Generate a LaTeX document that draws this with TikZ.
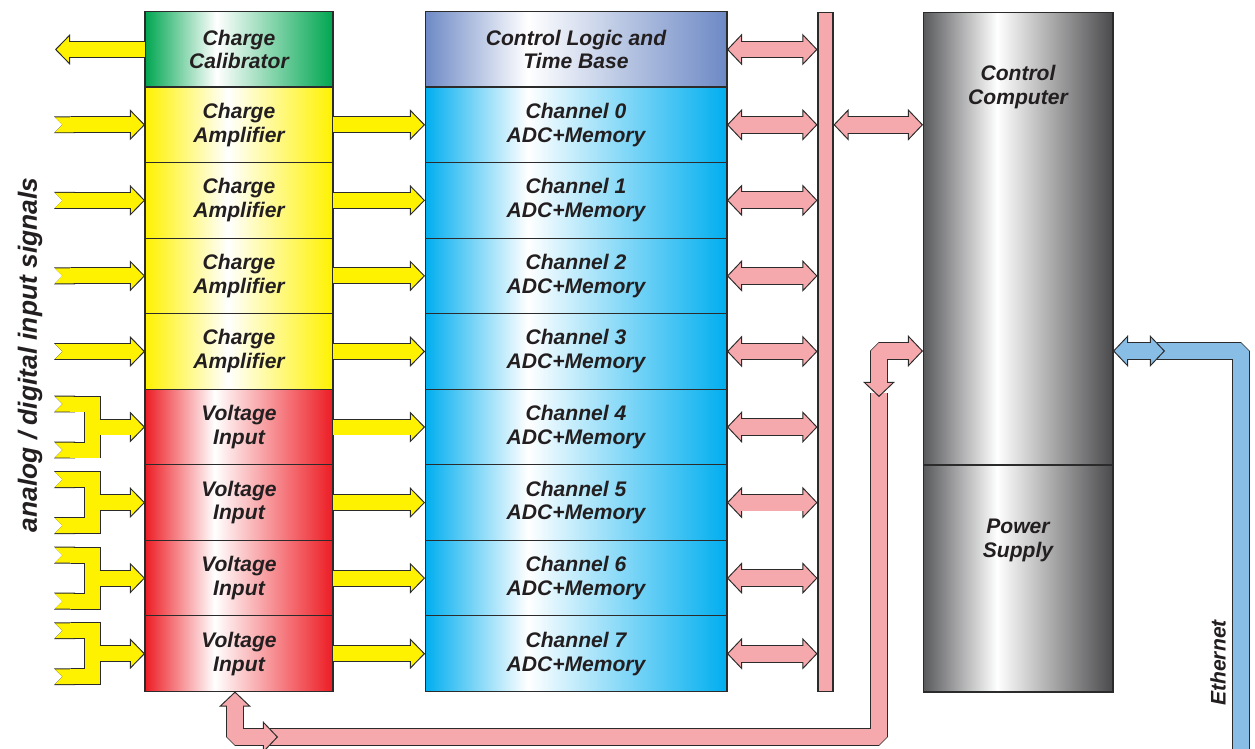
\documentclass[tikz,border=0pt]{standalone}
\usepackage{fontspec}
\setmainfont{Liberation Sans}
\usetikzlibrary{arrows.meta, calc}

\definecolor{edge}{HTML}{2B2B2B}
\definecolor{ink}{HTML}{231F20}
\definecolor{yfill}{HTML}{FFF200}
\definecolor{pfill}{HTML}{F5A9AC}
\definecolor{bfill}{HTML}{88BDE6}
\definecolor{calgreen}{HTML}{00A651}
\definecolor{ampyellow}{HTML}{FFF200}
\definecolor{voltred}{HTML}{ED1C24}
\definecolor{ctrlblue}{HTML}{6D89C5}
\definecolor{chancyan}{HTML}{00AEEF}
\definecolor{pcgrayL}{HTML}{58595B}
\definecolor{pcgrayR}{HTML}{4A4A4C}

\pgfdeclarehorizontalshading{calshade}{100bp}{color(0bp)=(calgreen); color(25bp)=(calgreen); color(44bp)=(white); color(75bp)=(calgreen); color(100bp)=(calgreen)}
\pgfdeclarehorizontalshading{ampshade}{100bp}{color(0bp)=(ampyellow); color(25bp)=(ampyellow); color(47bp)=(white); color(75bp)=(ampyellow); color(100bp)=(ampyellow)}
\pgfdeclarehorizontalshading{voltshade}{100bp}{color(0bp)=(voltred); color(25bp)=(voltred); color(43.5bp)=(white); color(75bp)=(voltred); color(100bp)=(voltred)}
\pgfdeclarehorizontalshading{ctrlshade}{100bp}{color(0bp)=(ctrlblue); color(25bp)=(ctrlblue); color(42bp)=(white); color(75bp)=(ctrlblue); color(100bp)=(ctrlblue)}
\pgfdeclarehorizontalshading{chanshade}{100bp}{color(0bp)=(chancyan); color(25bp)=(chancyan); color(42bp)=(white); color(75bp)=(chancyan); color(100bp)=(chancyan)}
\pgfdeclarehorizontalshading{pcshade}{100bp}{color(0bp)=(pcgrayL); color(25bp)=(pcgrayL); color(44.5bp)=(white); color(75bp)=(pcgrayR); color(100bp)=(pcgrayR)}

\newcommand{\blockfont}{\fontsize{12}{13.6}\selectfont\bfseries\itshape}
\newcommand{\sigfont}{\fontsize{15}{18}\selectfont\bfseries\itshape}

\begin{document}
\begin{tikzpicture}[x=0.02cm, y=-0.02cm,
    box/.style={draw=edge, line width=0.6pt, inner sep=0pt, outer sep=0pt, align=center, text=ink, font=\blockfont, shade},
    frontbox/.style={box, minimum width=3.76cm, minimum height=1.511cm},
    chanbox/.style={box, minimum width=6.04cm, minimum height=1.511cm},
    pcbox/.style={box, minimum width=3.8cm, shading=pcshade},
    boxlabel/.style={anchor=center, yshift=-1.5cm, align=center, text=ink, font=\blockfont},
    yhead/.tip={Triangle[length=8.6pt, width=17.5pt, line width=0.55pt, fill=yfill]},
    phead/.tip={Triangle[length=8.6pt, width=18pt, line width=0.55pt, fill=pfill]},
    bhead/.tip={Triangle[length=8.6pt, width=18pt, line width=0.55pt, fill=bfill]},
    notch/.tip={Triangle Cap[reversed]},
    yarr/.style={draw=yfill, line width=8.5pt, shorten >=7.6pt,
        preaction={draw=edge, line width=9.6pt, shorten >=0pt, -yhead}},
    yin/.style={draw=yfill, line width=8.5pt, shorten >=7.6pt, shorten <=0.6pt, notch-,
        preaction={draw=edge, line width=9.6pt, shorten >=0pt, shorten <=0pt, notch-yhead}},
    yfork/.style={draw=yfill, line width=8.5pt, shorten >=0.6pt, shorten <=0.6pt, notch-notch,
        preaction={draw=edge, line width=9.6pt, shorten >=0pt, shorten <=0pt, notch-notch}},
    parr/.style={draw=pfill, line width=9pt, line join=bevel, shorten >=7.6pt, shorten <=7.6pt,
        preaction={draw=edge, line width=10.1pt, line join=bevel, shorten >=0pt, shorten <=0pt, phead-phead}},
    ppipe/.style={draw=pfill, line width=9pt, line join=bevel,
        preaction={draw=edge, line width=10.1pt, line join=bevel}},
    barr/.style={draw=bfill, line width=9pt, shorten >=7.6pt, shorten <=7.6pt,
        preaction={draw=edge, line width=10.1pt, shorten >=0pt, shorten <=0pt, bhead-bhead}},
    bpipe/.style={draw=bfill, line width=9pt, line join=bevel,
        preaction={draw=edge, line width=10.1pt, line join=bevel}}
]
\useasboundingbox (0,0) rectangle (1255,749);

\node[frontbox, shading=calshade] (cal) at (239,49.5) {Charge\\Calibrator};
\foreach \i in {0,...,3}
    \node[frontbox, shading=ampshade] (in\i) at (239,124.8+75.56*\i) {Charge\\Amplifier};
\foreach \i in {4,...,7}
    \node[frontbox, shading=voltshade] (in\i) at (239,124.8+75.56*\i) {Voltage\\Input};

\node[chanbox, shading=ctrlshade] (ctrl) at (576,49.5) {Control Logic and\\Time Base};
\foreach \i in {0,...,7}
    \node[chanbox, shading=chanshade] (ch\i) at (576,124.8+75.56*\i) {Channel \i\\ADC+Memory};

\node[draw=edge, fill=pfill, line width=0.6pt, inner sep=0pt, minimum width=0.3cm, minimum height=13.6cm] (bus) at (825.5,352) {};
\node[pcbox, minimum height=9.06cm, label={[boxlabel]north:Control\\Computer}] (pc) at (1018,238.5) {};
\node[pcbox, minimum height=4.54cm, label={[boxlabel]north:Power\\Supply}] (psu) at (1018,578.5) {};

\node[rotate=90, font=\sigfont, text=ink] (signals) at (30,355) {analog / digital input signals};
\node[rotate=90, font=\blockfont, text=ink] (ethernet) at (1218,663) {Ethernet};

\draw[yarr] (cal.west) -- ++(-90,0);
\foreach \i in {0,...,3}
    \draw[yin] ($(in\i.west)+(-91,0)$) -- (in\i.west);
\foreach \i in {4,...,7} {
    \draw[yfork] ($(in\i.west)+(-91,-23)$) -- ++(38.5,0) -- ++(0,46) -- ++(-38.5,0);
    \draw[yarr] ($(in\i.west)+(-45.5,0)$) -- (in\i.west);
}
\foreach \i in {0,...,7}
    \draw[yarr] (in\i.east) -- (ch\i.west);

\foreach \n in {ctrl,ch0,ch1,ch2,ch3,ch4,ch5,ch6,ch7}
    \draw[parr] (\n.east) -- (\n.east -| bus.west);
\draw[parr] (bus.east |- ch0) -- (pc.west |- ch0);

\coordinate (hi) at (879,351);
\coordinate (lo) at (879,737);
\draw[ppipe] ($(in7.south |- lo)+(26,0)$) -- (lo) -- ($(hi)+(0,42)$);
\draw[parr] ($(in7.south)+(-4,0)$) -- ($(in7.south |- lo)+(-4,0)$) -- ++(43,0);
\draw[parr] ($(hi)+(0,46)$) -- (hi) -- (hi -| pc.west);

\coordinate (ethtop) at (1241,351);
\coordinate (ethend) at (1241,760);
\draw[bpipe] ($(pc.east |- hi)+(40,0)$) -- (ethtop) -- (ethend);
\draw[barr] (pc.east |- hi) -- ++(52,0);
\end{tikzpicture}
\end{document}
